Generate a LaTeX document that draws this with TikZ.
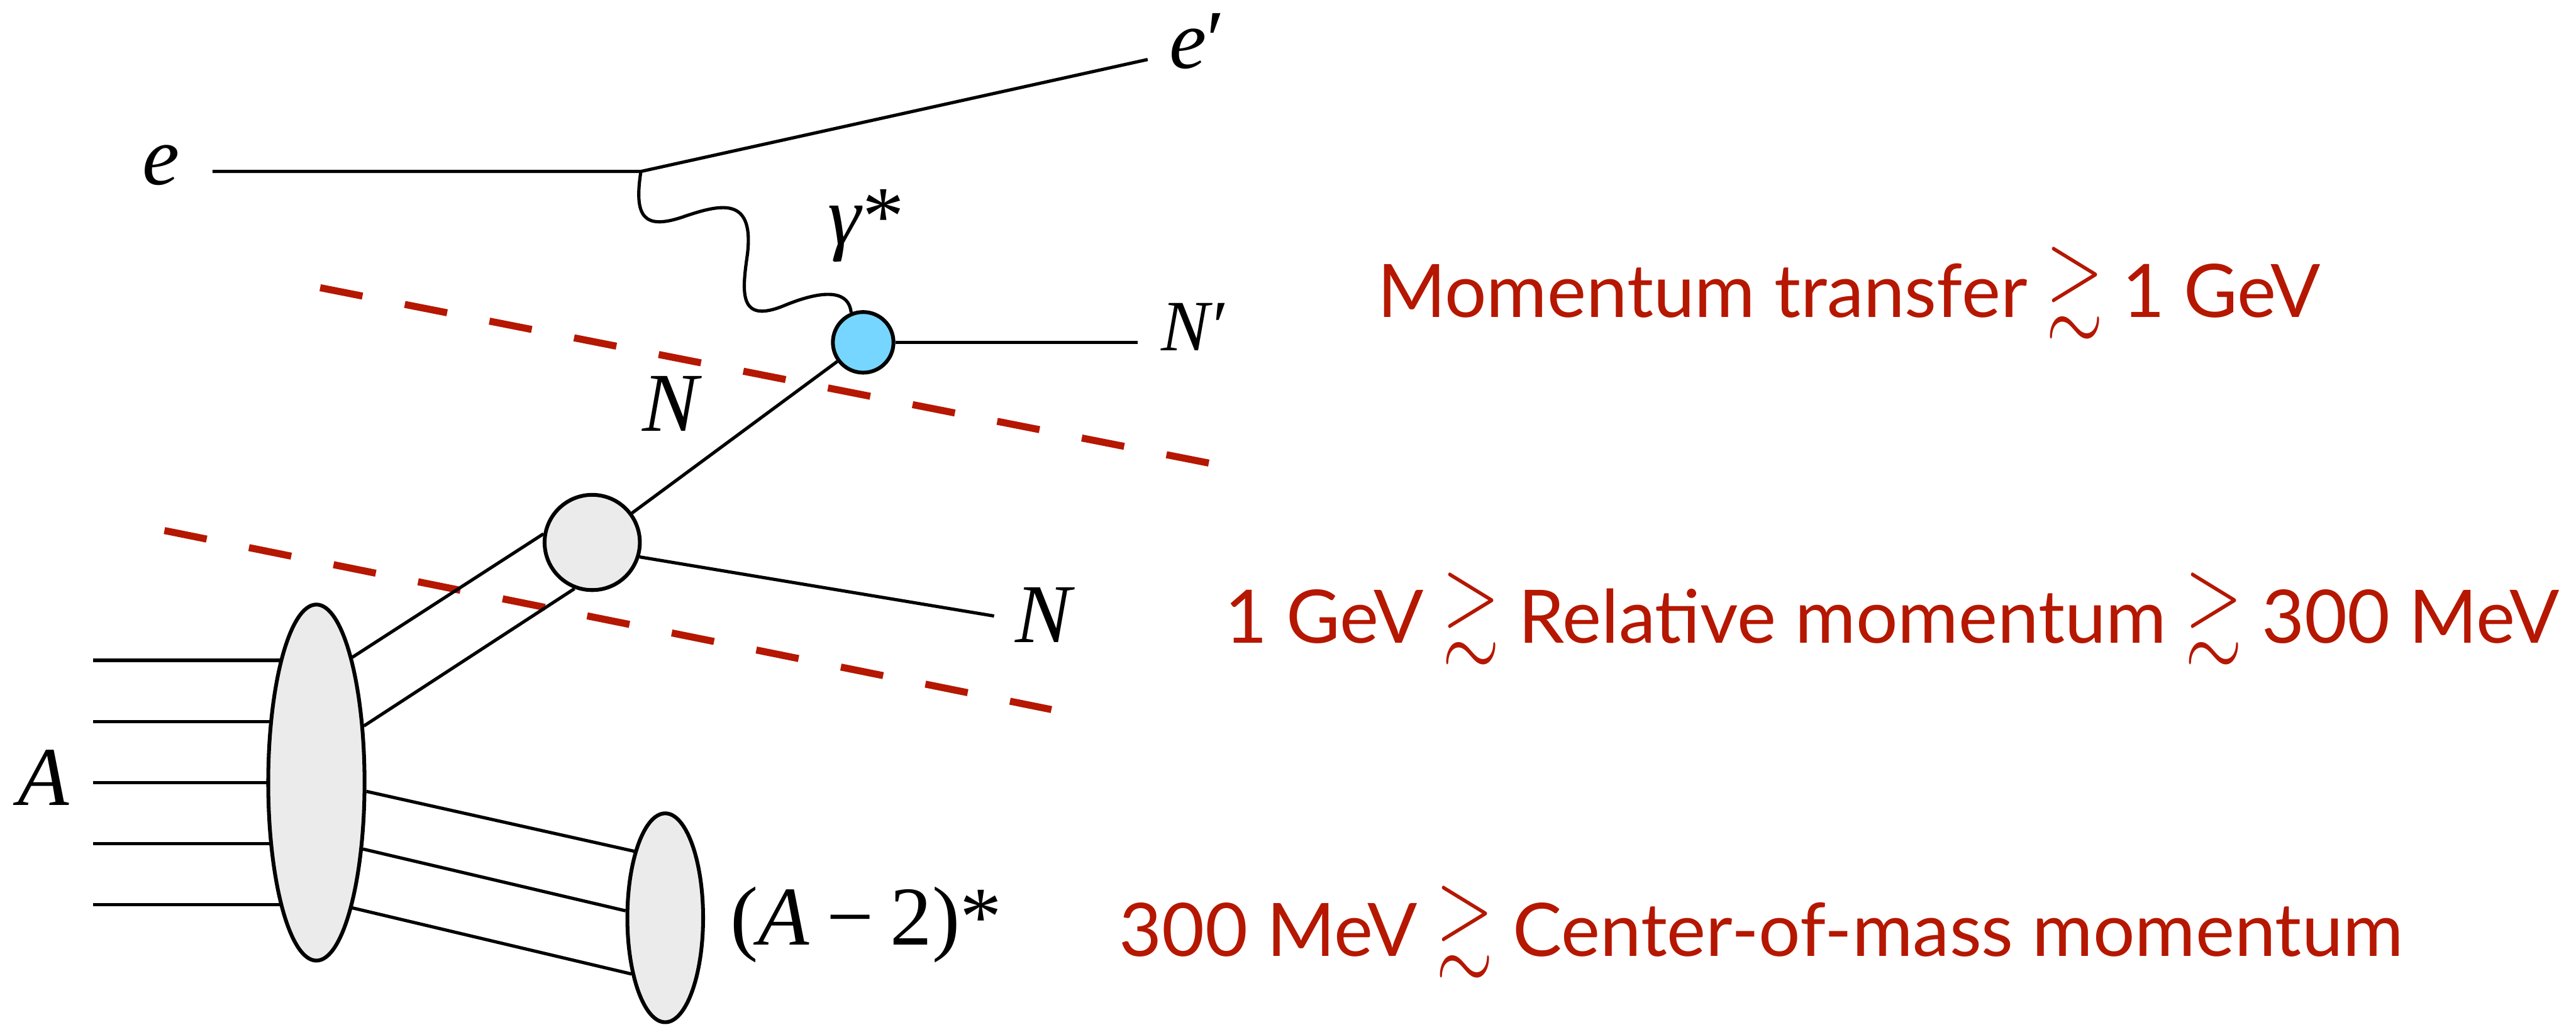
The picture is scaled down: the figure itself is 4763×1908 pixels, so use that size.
\documentclass[tikz,border=0pt]{standalone}
\usepackage{amssymb}
\usepackage{graphicx}
\usepackage{fontspec}
\newfontfamily\lblfont{Liberation Serif}
\newfontfamily\notefont{Lato}
\usetikzlibrary{shapes.geometric,backgrounds}
\definecolor{cutred}{RGB}{181,23,0}
\definecolor{hitblue}{RGB}{118,214,255}
\definecolor{blobgray}{RGB}{235,235,235}
\newcommand{\gsim}{\scalebox{1}[1.3]{$\gtrsim$}}

\begin{document}
\begin{tikzpicture}[
  x=0.01cm, y=-0.01cm,
  ln/.style={line width=1.7pt},
  blob/.style={draw,line width=2pt,fill=blobgray,inner sep=0},
  lbl/.style={font=\fontsize{44}{48}\selectfont\lblfont,inner sep=0,anchor=base west},
  cut/.style={draw=cutred,line width=3.7pt,dash pattern=on 7.97mm off 7.97mm},
  note/.style={font=\fontsize{38.8}{42}\selectfont\notefont,text=cutred,inner sep=0,anchor=base west},
]
  \useasboundingbox (0,0) rectangle (4763,1908);

  % cuts
  \coordinate (c1a) at (592,532);  \coordinate (c1b) at (2239,857);
  \coordinate (c2a) at (304,981);  \coordinate (c2b) at (1944,1312);
  \draw[cut] (c1a) -- (c1b);
  \draw[cut] (c2a) -- (c2b);

  % lepton side
  \coordinate (ein) at (393,317);
  \coordinate (vx) at (1185,317);
  \coordinate (eout) at (2122,110);

  % blobs
  \node[blob,circle,fill=hitblue,minimum size=1.12cm] (hit) at (1596,633) {};
  \node[blob,circle,minimum size=1.76cm] (pair) at (1095,1003) {};
  \node[blob,ellipse,minimum width=1.78cm,minimum height=6.58cm] (nuc) at (585,1447) {};
  \node[blob,ellipse,minimum width=1.4cm,minimum height=3.86cm] (rest) at (1230,1697) {};
  \coordinate (nfwd) at (2103,633);
  \coordinate (nrec) at (1838,1139);

  \draw[ln] (ein) -- (vx) -- (eout);
  \draw[ln] (vx) .. controls (1172,400) and (1190,425) .. (1260,402)
    .. controls (1330,378) and (1395,360) .. (1382,470)
    .. controls (1372,540) and (1365,600) .. (1450,565)
    .. controls (1530,532) and (1570,540) .. (hit.112);
  \draw[ln] (hit) -- (nfwd);
  \draw[ln] (pair) -- (hit);
  \draw[ln] (pair.-17) -- (nrec);
  \draw[ln] (nuc.74.8) -- (pair.170.5);
  \draw[ln] (nuc.50) -- (pair.249);
  \draw[ln] (nuc.-10.2) -- (rest.115.8);
  \draw[ln] (nuc.-55) -- (rest.170.4);
  \draw[ln] (nuc.-74.8) -- (rest.239.3);

  % nucleons into A
  \foreach \k/\yy in {1/1221,2/1334,3/1447,4/1560,5/1673}
    \coordinate (in\k) at (172,\yy);
  \begin{pgfonlayer}{background}
    \foreach \k in {1,...,5}
      \draw[ln] (in\k) -- (in\k -| nuc.center);
  \end{pgfonlayer}

  % labels
  \node[lbl] (le) at (263,341) {\textit{e}};
  \node[lbl] (lep) at (2162,126) {\textit{e}′};
  \node[lbl] (lgam) at (1530,452) {\textit{γ}*};
  \node[lbl] (lnup) at (1187,797) {\textit{N}};
  \node[lbl] (lnlow) at (1877,1188) {\textit{N}};
  \node[lbl,font=\fontsize{38}{42}\selectfont\lblfont] (lnp) at (2147,648) {\textit{N}′};
  \node[lbl] (la) at (32,1489) {\textit{A}};
  \node[lbl] (lrest) at (1350,1747) {(\textit{A}\hspace{0.2em}−\hspace{0.2em}2)*};

  \node[note] (q1) at (2546,587) {Momentum transfer \gsim\ 1 GeV};
  \node[note] (q2) at (2264,1189) {1 GeV \gsim\ Relative momentum \gsim\ 300 MeV};
  \node[note] (q3) at (2069,1768) {300 MeV \gsim\ Center-of-mass momentum};
\end{tikzpicture}
\end{document}
